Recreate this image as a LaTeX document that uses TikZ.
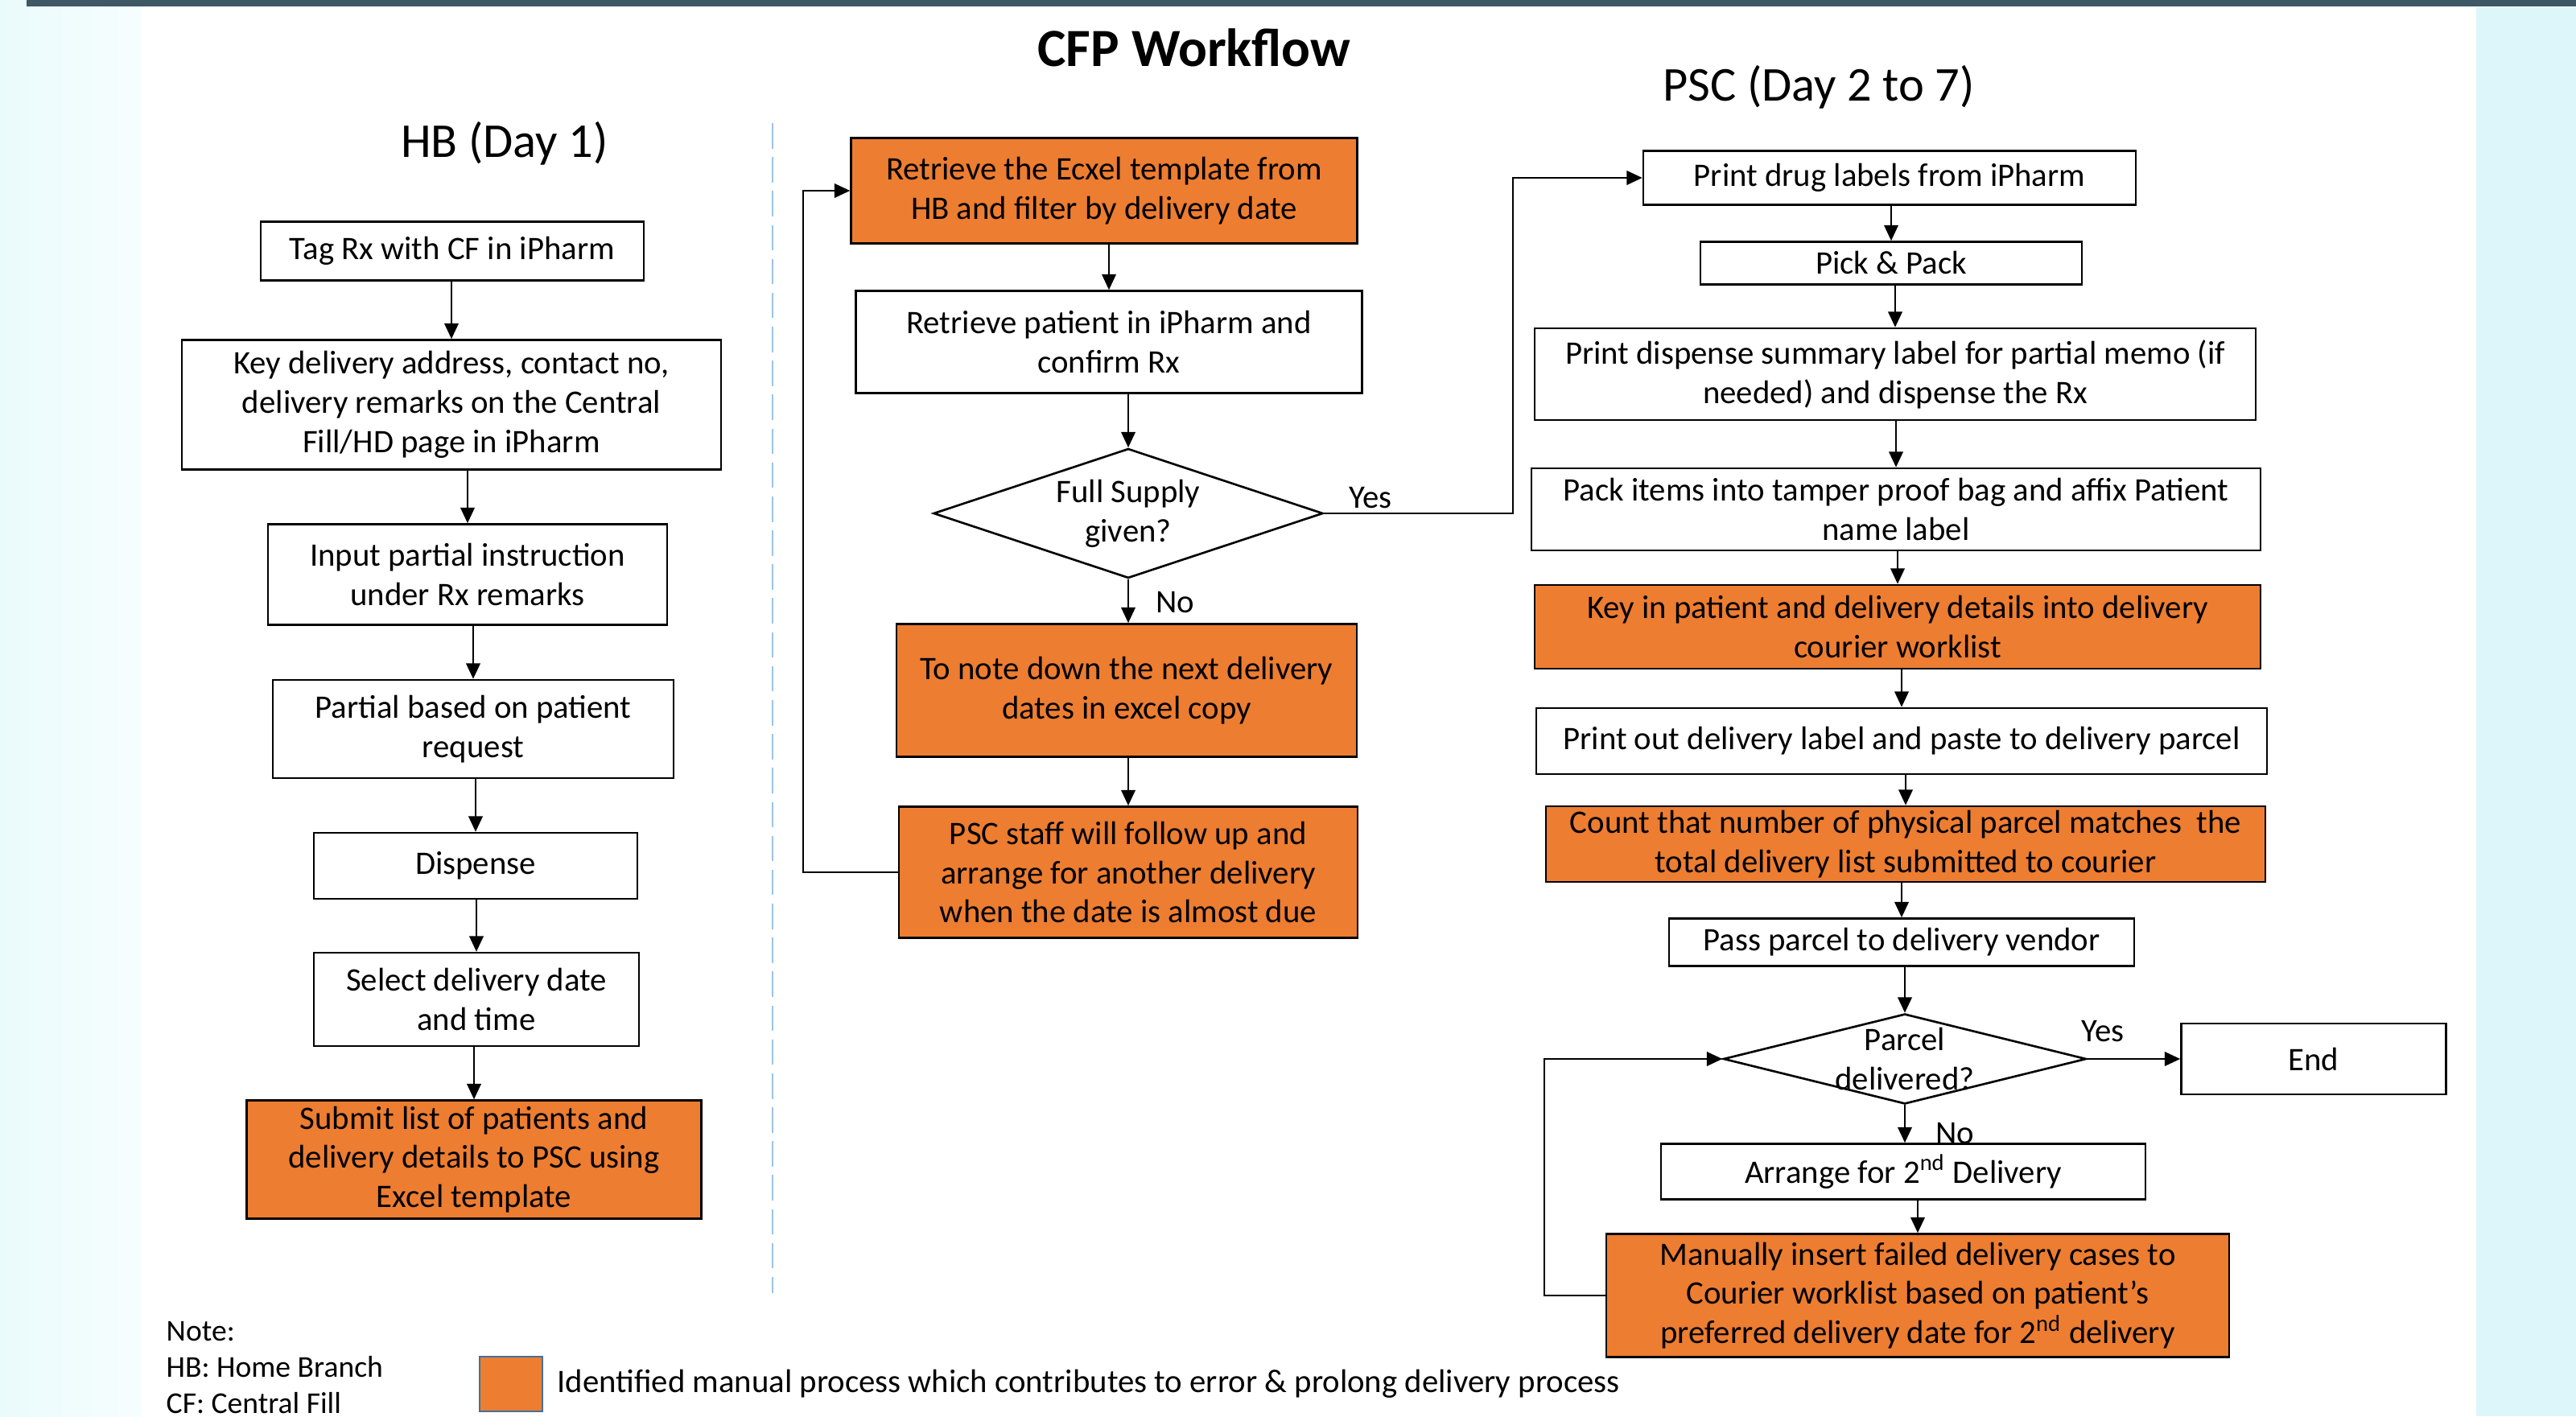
\documentclass[tikz,border=0pt]{standalone}
\usepackage{fontspec}
\setmainfont{Carlito}
\usepackage{tikz}
\usetikzlibrary{arrows.meta, positioning, shapes.geometric}
\definecolor{manual}{HTML}{ED7D31}
\definecolor{swatchline}{HTML}{41719C}
\definecolor{lanedash}{HTML}{9DC3E6}
\definecolor{sidecyan}{HTML}{DDF6FA}
\definecolor{sidepale}{HTML}{EAFBFC}
\definecolor{topbar}{HTML}{3E5866}

\begin{document}
\begin{tikzpicture}[
    every node/.style={font=\fontsize{11.6}{13.9}\selectfont},
    box/.style={
        rectangle,
        draw=black,
        fill=white,
        line width=0.75pt,
        align=center,
        inner sep=0pt
    },
    manualbox/.style={box, fill=manual},
    decision/.style={
        diamond,
        draw=black,
        fill=white,
        line width=0.75pt,
        inner sep=0pt
    },
    arrow/.style={-{Triangle[width=5pt,length=5.5pt]}, line width=0.6pt},
    lanelabel/.style={font=\fontsize{17.2}{20}\selectfont},
    notetext/.style={font=\fontsize{10.7}{12.8}\selectfont}
]

\useasboundingbox (0,0) rectangle (32.01,17.60);

% BACKGROUND
\shade[left color=sidepale, right color=sidepale!40!white] (0,0) rectangle (1.76,17.60);
\fill[white] (1.76,0) rectangle (30.77,17.51);
\fill[sidecyan] (30.77,0) rectangle (32.01,17.51);
\fill[topbar] (0.33,17.52) rectangle (32.01,17.60);

% TITLES
\node[font=\bfseries\fontsize{19}{23}\selectfont] (title) at (14.84,17.01) {CFP Workflow};
\node[lanelabel] (hblabel) at (6.27,15.82) {HB (Day 1)};
\node[lanelabel] (psclabel) at (22.60,16.52) {PSC (Day 2 to 7)};

% LANE SEPARATOR
\draw[lanedash, line width=0.6pt, dash pattern=on 9pt off 3pt] (9.60,16.07) -- (9.60,1.53);

% HB NODES
\node[box, minimum width=4.76cm, minimum height=0.73cm] (tag) at (5.62,14.48) {Tag Rx with CF in iPharm};
\node[box, minimum width=6.70cm, minimum height=1.61cm] (keyaddr) at (5.61,12.57) {Key delivery address, contact no,\\delivery remarks on the Central\\Fill/HD page in iPharm};
\node[box, minimum width=4.96cm, minimum height=1.25cm] (input) at (5.81,10.46) {Input partial instruction\\under Rx remarks};
\node[box, minimum width=4.98cm, minimum height=1.22cm] (partial) at (5.88,8.54) {Partial based on patient\\request};
\node[box, minimum width=4.02cm, minimum height=0.82cm] (dispense) at (5.91,6.84) {Dispense};
\node[box, minimum width=4.04cm, minimum height=1.16cm] (select) at (5.92,5.18) {Select delivery date\\and time};
\node[manualbox, minimum width=5.65cm, minimum height=1.47cm] (submit) at (5.89,3.19) {Submit list of patients and\\delivery details to PSC using\\Excel template};

% PSC NODES (RETRIEVAL)
\node[manualbox, minimum width=6.29cm, minimum height=1.31cm] (template) at (13.72,15.23) {Retrieve the Ecxel template from\\HB and filter by delivery date};
\node[box, minimum width=6.29cm, minimum height=1.27cm] (retrieve) at (13.78,13.35) {Retrieve patient in iPharm and\\confirm Rx};
\node[decision, minimum width=4.84cm, minimum height=1.61cm, label={[align=center]center:Full Supply\\given?}] (supply) at (14.02,11.22) {};
\node[manualbox, minimum width=5.72cm, minimum height=1.65cm] (notedown) at (14.00,9.02) {To note down the next delivery\\dates in excel copy};
\node[manualbox, minimum width=5.70cm, minimum height=1.63cm] (followup) at (14.02,6.76) {PSC staff will follow up and\\arrange for another delivery\\when the date is almost due};
\node (supplyyes) at (17.03,11.41) {Yes};
\node (supplyno) at (14.60,10.11) {No};
\coordinate (yesturn) at (18.80,11.22);
\coordinate (loopleft) at (9.98,6.76);

% PSC NODES (DISPENSING)
\node[box, minimum width=6.12cm, minimum height=0.67cm] (drugs) at (23.48,15.39) {Print drug labels from iPharm};
\node[box, minimum width=4.74cm, minimum height=0.53cm] (pick) at (23.50,14.33) {Pick \& Pack};
\node[box, minimum width=8.96cm, minimum height=1.14cm] (summary) at (23.55,12.95) {Print dispense summary label for partial memo (if\\needed) and dispense the Rx};
\node[box, minimum width=9.06cm, minimum height=1.02cm] (tamper) at (23.56,11.27) {Pack items into tamper proof bag and affix Patient\\name label};
\node[manualbox, minimum width=9.02cm, minimum height=1.04cm] (courier) at (23.58,9.81) {Key in patient and delivery details into delivery\\courier worklist};
\node[box, minimum width=9.08cm, minimum height=0.82cm] (printout) at (23.63,8.39) {Print out delivery label and paste to delivery parcel};
\node[manualbox, minimum width=8.94cm, minimum height=0.94cm] (count) at (23.68,7.11) {Count that number of physical parcel matches\ \ the\\total delivery list submitted to courier};
\node[box, minimum width=5.78cm, minimum height=0.59cm] (vendor) at (23.63,5.89) {Pass parcel to delivery vendor};
\node[decision, minimum width=4.51cm, minimum height=1.12cm, label={[align=center]center:Parcel\\delivered?}] (parcel) at (23.67,4.44) {};
\node[box, minimum width=3.29cm, minimum height=0.88cm] (finish) at (28.75,4.44) {End};
\node[box, minimum width=6.02cm, minimum height=0.69cm] (secondtry) at (23.65,3.04) {Arrange for 2\textsuperscript{nd} Delivery};
\node[manualbox, minimum width=7.74cm, minimum height=1.53cm] (insert) at (23.83,1.50) {Manually insert failed delivery cases to\\Courier worklist based on patient’s\\preferred delivery date for 2\textsuperscript{nd} delivery};
\node (parcelyes) at (26.13,4.78) {Yes};
\node (parcelno) at (24.29,3.51) {No};
\coordinate (loopright) at (19.19,1.50);

% ARROWS
\draw[arrow] (keyaddr.north |- tag.south) -- (keyaddr.north);
\draw[arrow] (input.north |- keyaddr.south) -- (input.north);
\draw[arrow] (partial.north |- input.south) -- (partial.north);
\draw[arrow] (dispense.north |- partial.south) -- (dispense.north);
\draw[arrow] (select.north |- dispense.south) -- (select.north);
\draw[arrow] (submit.north |- select.south) -- (submit.north);

\draw[arrow] (retrieve.north |- template.south) -- (retrieve.north);
\draw[arrow] (supply.north |- retrieve.south) -- (supply.north);
\draw[arrow] (supply.south) -- (supply.south |- notedown.north);
\draw[arrow] (followup.north |- notedown.south) -- (followup.north);
\draw[arrow] (followup.west) -- (loopleft) |- (template.west);
\draw[arrow] (supply.east) -- (yesturn) |- (drugs.west);

\draw[arrow] (pick.north |- drugs.south) -- (pick.north);
\draw[arrow] (summary.north |- pick.south) -- (summary.north);
\draw[arrow] (tamper.north |- summary.south) -- (tamper.north);
\draw[arrow] (courier.north |- tamper.south) -- (courier.north);
\draw[arrow] (printout.north |- courier.south) -- (printout.north);
\draw[arrow] (count.north |- printout.south) -- (count.north);
\draw[arrow] (vendor.north |- count.south) -- (vendor.north);
\draw[arrow] (parcel.north |- vendor.south) -- (parcel.north);
\draw[arrow] (parcel.east) -- (finish.west);
\draw[arrow] (parcel.south) -- (parcel.south |- secondtry.north);
\draw[arrow] (insert.north |- secondtry.south) -- (insert.north);
\draw[arrow] (insert.west) -- (loopright) |- (parcel.west);

% NOTE AND LEGEND
\node[notetext, align=left, anchor=west, inner xsep=0pt] (note) at (2.06,0.60) {Note:\\HB: Home Branch\\CF: Central Fill};
\node[rectangle, fill=manual, draw=swatchline, line width=0.6pt, minimum width=0.78cm, minimum height=0.68cm] (swatch) at (6.35,0.40) {};
\node[right=0.05cm of swatch, font=\fontsize{11.6}{13.9}\selectfont] (legend) {Identified manual process which contributes to error \& prolong delivery process};

\end{tikzpicture}
\end{document}
